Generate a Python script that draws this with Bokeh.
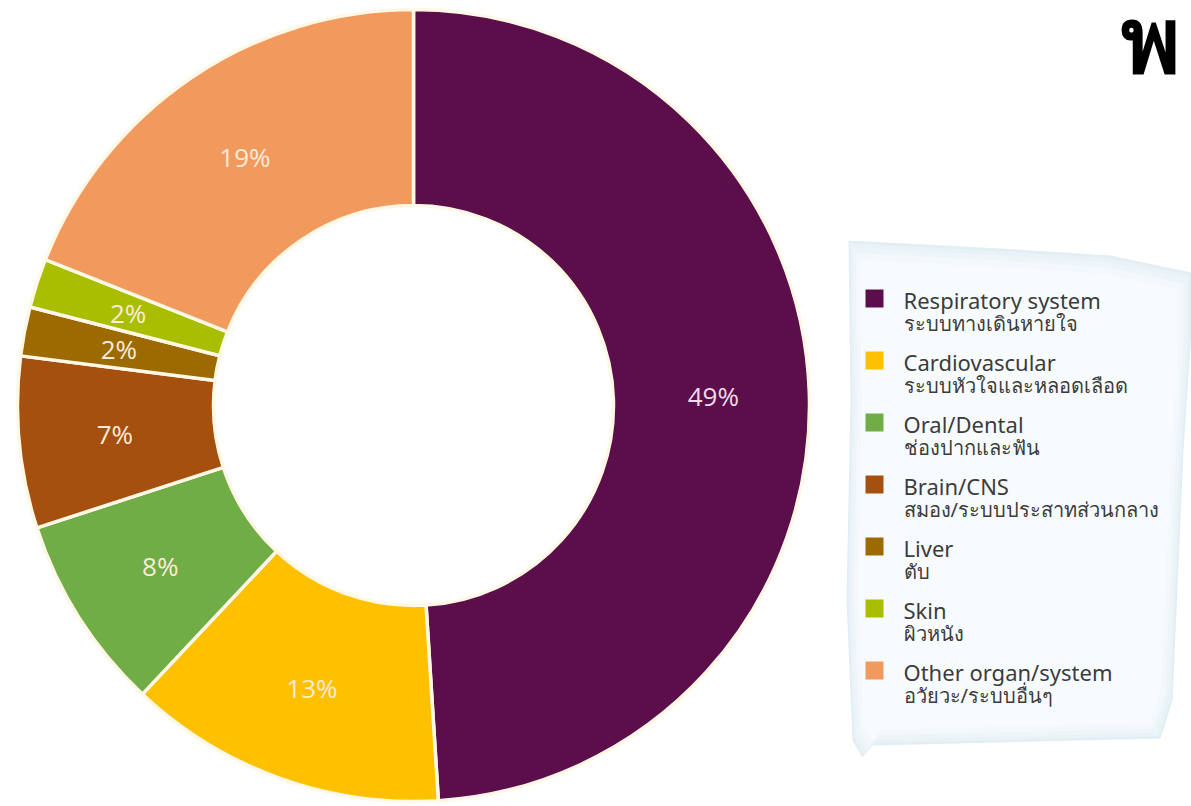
import math
from bokeh.plotting import figure
from bokeh.models import Range1d, Label
from bokeh.core.properties import value
from bokeh.embed import file_html
from bokeh.resources import INLINE

# ---- data ----
categories_en = ["Respiratory system", "Cardiovascular", "Oral/Dental", "Brain/CNS",
                 "Liver", "Skin", "Other organ/system"]
categories_th = ["ระบบทางเดินหายใจ", "ระบบหัวใจและหลอดเลือด", "ช่องปากและฟัน",
                 "สมอง/ระบบประสาทส่วนกลาง", "ตับ", "ผิวหนัง", "อวัยวะ/ระบบอื่นๆ"]
values_pct = [49, 13, 8, 7, 2, 2, 19]
palette = ["#5B0E4A", "#FFC000", "#70AD47", "#A5500E", "#9C6A00", "#A9BE00", "#F29A5E"]
title_glyph = "พ"

W, H = 1191, 806
p = figure(width=W, height=H, output_backend="svg", toolbar_location=None,
           x_range=Range1d(0, W), y_range=Range1d(0, H), min_border=0)
p.axis.visible = False
p.grid.visible = False
p.outline_line_color = None
p.background_fill_color = "white"
p.border_fill_color = "white"

cx, cy = 413, H - 405
R_out, R_in = 396, 200

total = sum(values_pct)
starts, ends, mids = [], [], []
cum = 0.0
for v in values_pct:
    a0 = math.pi / 2 - 2 * math.pi * cum / total
    cum += v
    a1 = math.pi / 2 - 2 * math.pi * cum / total
    starts.append(a0)
    ends.append(a1)
    mids.append((a0 + a1) / 2)

p.annular_wedge(x=cx, y=cy, inner_radius=R_in, outer_radius=R_out,
                start_angle=starts, end_angle=ends, direction="clock",
                fill_color=palette, line_color="#FFF8E6", line_width=3.5)

r_lab = 300
lx = [cx + r_lab * math.cos(m) for m in mids]
ly = [cy + r_lab * math.sin(m) for m in mids]
labels = [f"{v}%" for v in values_pct]
lab_colors = ["#F1D9EA"] + ["#FBEBD9"] * (len(values_pct) - 1)
p.text(x=lx, y=ly, text=labels, text_align="center", text_baseline="middle",
       text_font=value("Open Sans"), text_font_size="26px", text_color=lab_colors)

# ---- legend paper background ----
poly_x = [848, 1000, 1110, 1191, 1191, 1183, 1172, 1160, 1000, 872, 862, 852, 846, 850]
poly_y = [240, 248, 255, 272, 330, 450, 700, 738, 742, 745, 757, 740, 600, 400]
pcx = sum(poly_x) / len(poly_x)
pcy = sum(poly_y) / len(poly_y)
shades = ["#E2EEF4", "#E8F2F7", "#EEF5F9", "#F3F8FB", "#F8FBFD"]
scales = [1.0, 0.99, 0.975, 0.955, 0.93]
for col, s in zip(shades, scales):
    xs = [pcx + (x - pcx) * s for x in poly_x]
    ys = [H - (pcy + (y - pcy) * s) for y in poly_y]
    p.patch(x=xs, y=ys, fill_color=col, line_color=None)

# ---- legend entries ----
row0, step = 298, 62.0
sq_x = [874] * len(categories_en)
sq_y = [H - (row0 + i * step) for i in range(len(categories_en))]
p.rect(x=sq_x, y=sq_y, width=18, height=18, fill_color=palette, line_color=None)
p.text(x=[903] * len(categories_en), y=[H - (row0 + 1 + i * step) for i in range(len(categories_en))],
       text=categories_en, text_baseline="middle", text_font=value("Noto Sans"),
       text_font_size="22px", text_color="#3C3C3C")
p.text(x=[903] * len(categories_th), y=[H - (row0 + 25 + i * step) for i in range(len(categories_th))],
       text=categories_th, text_baseline="middle", text_font=value("Noto Sans"),
       text_font_size="20px", text_color="#3C3C3C")

# ---- title glyph at top right ----
p.add_layout(Label(x=1120, y=H - 36, text=title_glyph, text_baseline="middle",
                   text_font="Noto Sans", text_font_size="90px", text_font_style="bold",
                   text_color="black"))

open("out.html", "w").write(file_html(p, INLINE))
